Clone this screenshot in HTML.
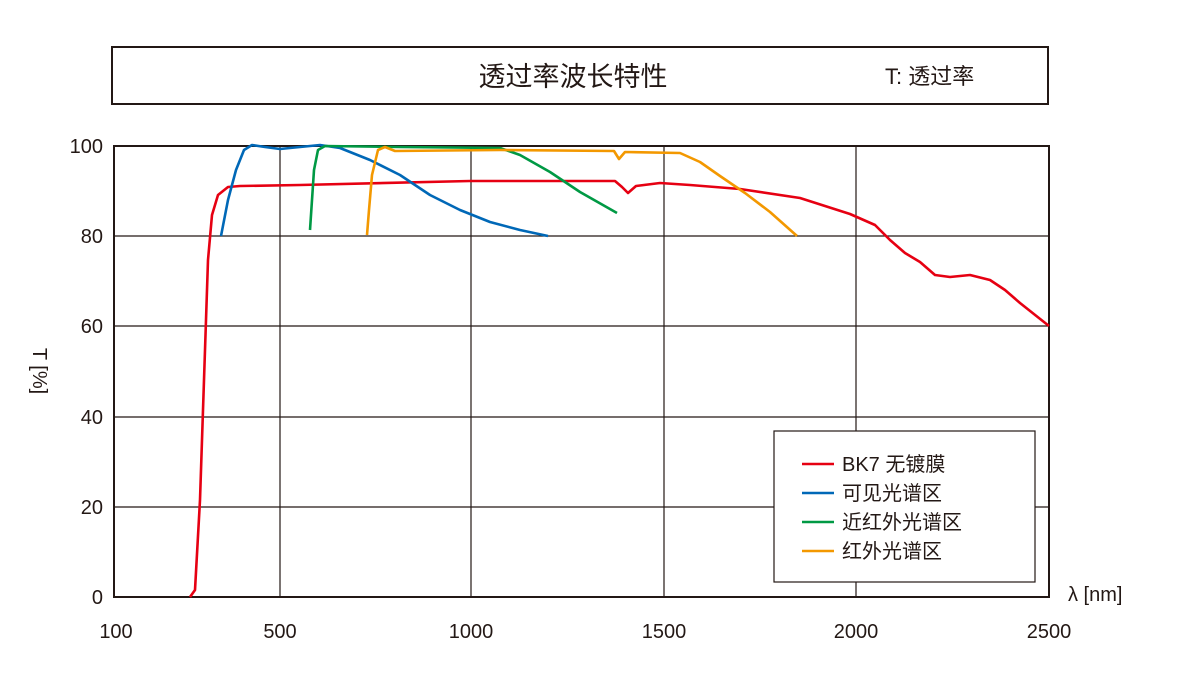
<!DOCTYPE html><html><head><meta charset="utf-8"><style>body{margin:0;background:#fff}svg text{font-family:"Liberation Sans","Noto Sans CJK SC",sans-serif;fill:#231815}</style></head><body>
<svg width="1200" height="688" viewBox="0 0 1200 688">
<rect x="112" y="47" width="936" height="57" fill="none" stroke="#231815" stroke-width="2"/>
<text x="573" y="86" font-size="27" text-anchor="middle">透过率波长特性</text>
<text x="885" y="84" font-size="22">T: 透过率</text>
<g stroke="#231815" stroke-width="1.2">
<line x1="280" y1="146" x2="280" y2="597"/><line x1="471" y1="146" x2="471" y2="597"/><line x1="664" y1="146" x2="664" y2="597"/><line x1="856" y1="146" x2="856" y2="597"/>
<line x1="114" y1="236" x2="1049" y2="236"/><line x1="114" y1="326" x2="1049" y2="326"/><line x1="114" y1="417" x2="1049" y2="417"/><line x1="114" y1="507" x2="1049" y2="507"/>
</g>
<rect x="114" y="146" width="935" height="451" fill="none" stroke="#231815" stroke-width="2"/>
<g font-size="20" text-anchor="end"><text x="103" y="153">100</text><text x="103" y="243">80</text><text x="103" y="333">60</text><text x="103" y="424">40</text><text x="103" y="514">20</text><text x="103" y="604">0</text></g>
<g font-size="20" text-anchor="middle"><text x="116" y="638">100</text><text x="280" y="638">500</text><text x="471" y="638">1000</text><text x="664" y="638">1500</text><text x="856" y="638">2000</text><text x="1049" y="638">2500</text></g>
<text x="1068" y="601" font-size="20">λ [nm]</text>
<text transform="translate(33,371) rotate(90)" font-size="20" text-anchor="middle">T [%]</text>
<g fill="none" stroke-width="2.6" stroke-linejoin="round">
<polyline stroke="#e60012" points="190,597 195,590 200,500 205,350 208,260 212,215 218,195 228,187 240,186 300,185 470,181 615,181 622,187 628,193 636,186 660,183 690,185 740,189 800,198 850,214 875,225 890,240 905,253 920,262 935,275 950,277 970,275 990,280 1005,290 1020,303 1049,326"/>
<polyline stroke="#0068b7" points="221,236 228,200 236,170 244,150 252,145 265,147 280,149 300,147 320,145 340,148 370,160 400,175 430,195 460,210 490,222 520,230 548,236"/>
<polyline stroke="#009944" points="310,230 312,200 314,170 318,150 325,146 400,147 500,148 520,155 550,172 580,192 617,213"/>
<polyline stroke="#f39800" points="367,235 369,210 372,175 378,150 385,147 395,151 500,150 614,151 619,159 625,152 680,153 700,162 720,176 745,193 770,212 797,236"/>
</g>
<rect x="774" y="431" width="261" height="151" fill="#fff" stroke="#231815" stroke-width="1.2"/>
<g stroke-width="2.6"><line x1="802" y1="464" x2="834" y2="464" stroke="#e60012"/><line x1="802" y1="493" x2="834" y2="493" stroke="#0068b7"/><line x1="802" y1="522" x2="834" y2="522" stroke="#009944"/><line x1="802" y1="551" x2="834" y2="551" stroke="#f39800"/></g>
<g font-size="20"><text x="842" y="471">BK7 无镀膜</text><text x="842" y="500">可见光谱区</text><text x="842" y="529">近红外光谱区</text><text x="842" y="558">红外光谱区</text></g>
</svg></body></html>
